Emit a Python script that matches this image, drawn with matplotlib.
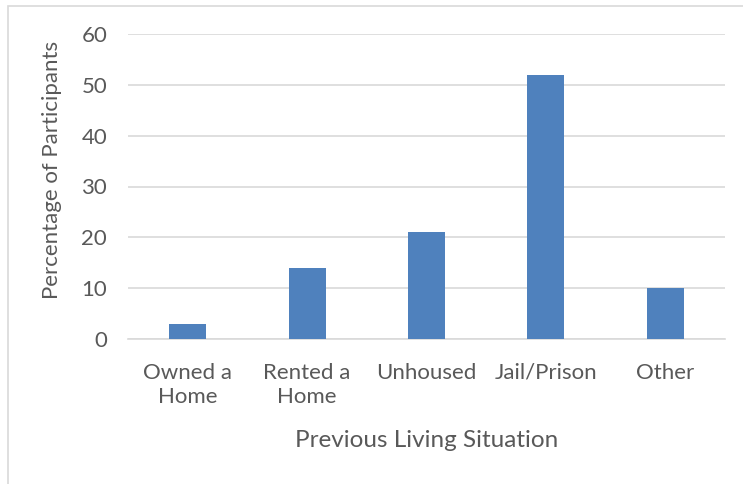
import matplotlib.pyplot as plt
from matplotlib.patches import Rectangle

# Previous living situation of participants (percent)
categories = ["Owned a\nHome", "Rented a\nHome", "Unhoused", "Jail/Prison", "Other"]
percentages = [3, 14, 21, 52, 10]
y_ticks = [0, 10, 20, 30, 40, 50, 60]

BAR_COLOR = "#4F81BD"
TEXT_COLOR = "#595959"
GRID_COLOR = "#D9D9D9"

plt.rcParams["font.family"] = ["Lato", "DejaVu Sans"]

fig = plt.figure(figsize=(7.43, 4.84), dpi=100)
W, H = 743, 484

# chart area frame (runs off the right and bottom edges)
fig.patches.append(Rectangle((8 / W, -0.05), 1.2, 1 - 6 / H + 0.05,
                             transform=fig.transFigure, fill=False,
                             edgecolor=GRID_COLOR, linewidth=1.2))

ax = fig.add_axes([128 / W, 1 - 339 / H, (725 - 128) / W, (339 - 34) / H])
x = range(len(categories))
ax.bar(x, percentages, width=0.31, color=BAR_COLOR, zorder=3)

ax.set_xlim(-0.5, len(categories) - 0.5)
ax.set_ylim(0, 60)
ax.set_yticks(y_ticks)
ax.set_xticks(list(x))
ax.set_xticklabels(categories, linespacing=1.3)
ax.yaxis.grid(True, color=GRID_COLOR, linewidth=1.2, zorder=0)
ax.tick_params(axis="both", length=0, labelsize=16, colors=TEXT_COLOR)
ax.tick_params(axis="x", pad=17)
ax.tick_params(axis="y", pad=15)
for side in ["top", "right", "left"]:
    ax.spines[side].set_visible(False)
ax.spines["bottom"].set_color(GRID_COLOR)
ax.spines["bottom"].set_linewidth(1.2)

fig.text(52 / W, 1 - 170 / H, "Percentage of Participants", rotation=90,
         ha="center", va="center", fontsize=16, color=TEXT_COLOR)
fig.text(426.5 / W, 1 - 447 / H, "Previous Living Situation",
         ha="center", va="baseline", fontsize=17.5, color=TEXT_COLOR)

fig.savefig("out.png", dpi=100)
